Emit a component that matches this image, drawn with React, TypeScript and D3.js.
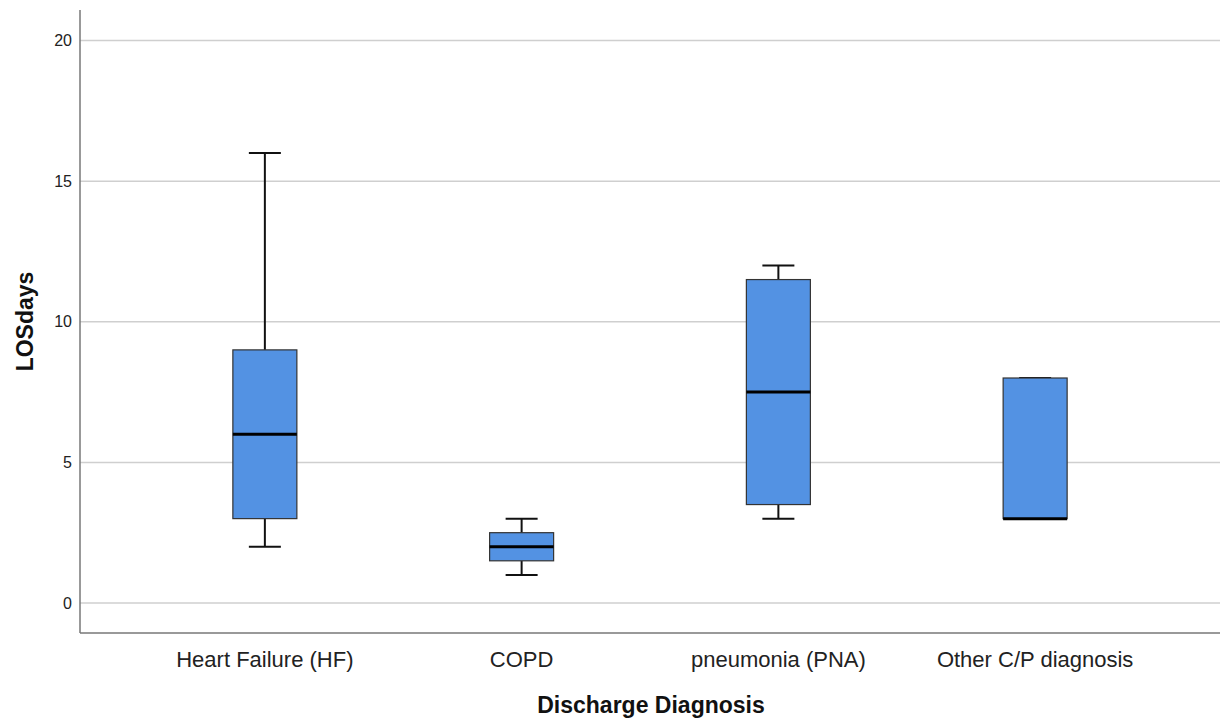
import React from 'react';
import * as d3 from 'd3';

const categories = ['Heart Failure (HF)', 'COPD', 'pneumonia (PNA)', 'Other C/P diagnosis'];
const mins = [2, 1, 3, 3];
const q1s = [3, 1.5, 3.5, 3];
const medians = [6, 2, 7.5, 3];
const q3s = [9, 2.5, 11.5, 8];
const maxs = [16, 3, 12, 8];
const yTicks = [0, 5, 10, 15, 20];

const W = 1226;
const H = 719;
const left = 80;
const right = 1220;
const top = 10;
const bottom = 633;

const App = () => {
    const x = d3.scalePoint<string>().domain(categories).range([left, right]).padding(0.72);
    const y = d3.scaleLinear().domain([0, 20]).range([603, 40.5]);
    const boxW = 64;
    const capW = 32;
    const font = 'Liberation Sans, Arial, sans-serif';

    return (
        <svg width={W} height={H} style={{ position: 'absolute', left: 0, top: 0, background: '#fff' }}>
            {/* gridlines */}
            {yTicks.map(t => (
                <line key={t} x1={left} x2={right} y1={y(t)} y2={y(t)} stroke="#cfcfcf" strokeWidth={1.5} />
            ))}
            {yTicks.map(t => (
                <text key={'l' + t} x={72} y={y(t)} dy="0.35em" textAnchor="end" fontFamily={font} fontSize={16} fill="#222">{t}</text>
            ))}

            {/* boxes */}
            {categories.map((c, i) => {
                const cx = x(c) as number;
                return (
                    <g key={c}>
                        <line x1={cx} x2={cx} y1={y(maxs[i])} y2={y(q3s[i])} stroke="#111" strokeWidth={2} />
                        <line x1={cx} x2={cx} y1={y(q1s[i])} y2={y(mins[i])} stroke="#111" strokeWidth={2} />
                        <line x1={cx - capW / 2} x2={cx + capW / 2} y1={y(maxs[i])} y2={y(maxs[i])} stroke="#111" strokeWidth={2} />
                        <line x1={cx - capW / 2} x2={cx + capW / 2} y1={y(mins[i])} y2={y(mins[i])} stroke="#111" strokeWidth={2} />
                        <rect x={cx - boxW / 2} y={y(q3s[i])} width={boxW} height={y(q1s[i]) - y(q3s[i])}
                            fill="#5392e3" stroke="#333" strokeWidth={1.2} />
                        <line x1={cx - boxW / 2} x2={cx + boxW / 2} y1={y(medians[i])} y2={y(medians[i])} stroke="#000" strokeWidth={3} />
                        <text x={cx} y={659} dy="0.35em" textAnchor="middle" fontFamily={font} fontSize={22} fill="#222">{c}</text>
                    </g>
                );
            })}

            {/* axes */}
            <line x1={left} x2={left} y1={top} y2={bottom} stroke="#777" strokeWidth={1.5} />
            <line x1={left} x2={right} y1={bottom} y2={bottom} stroke="#777" strokeWidth={1.5} />

            <text x={651} y={705} dy="0.35em" textAnchor="middle" fontFamily={font} fontSize={23} fontWeight="bold" fill="#111">Discharge Diagnosis</text>
            <text transform={`translate(25,${(top + bottom) / 2}) rotate(-90)`} dy="0.35em" textAnchor="middle" fontFamily={font} fontSize={23} fontWeight="bold" fill="#111">LOSdays</text>
        </svg>
    );
};

export default App;
